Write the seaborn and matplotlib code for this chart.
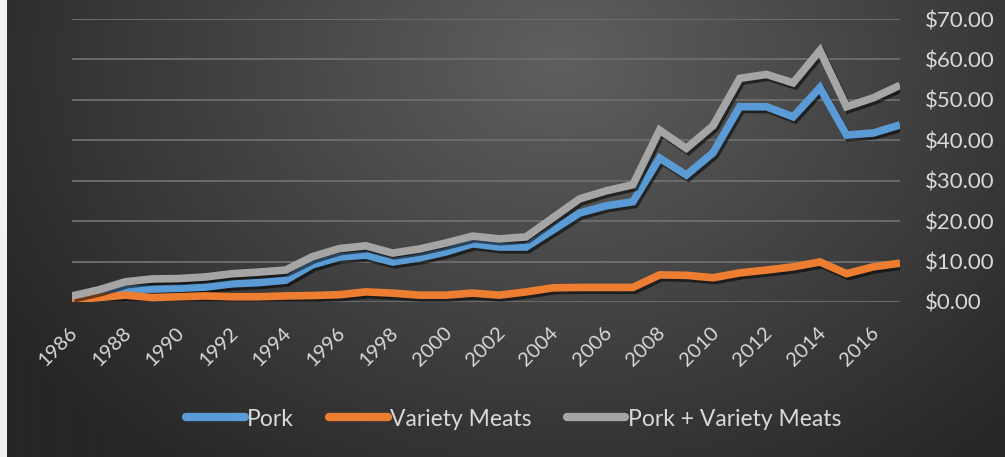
import numpy as np
import pandas as pd
import matplotlib
matplotlib.use("Agg")
import matplotlib.pyplot as plt
import matplotlib.patheffects as pe
from matplotlib.colors import to_rgb
from matplotlib.lines import Line2D
from matplotlib.ticker import FuncFormatter, MultipleLocator
import matplotlib.transforms as mtransforms
import seaborn as sns

# ---- data (US $ per head) ----
years = list(range(1986, 2018))
pork = [0.8, 2.0, 3.2, 3.2, 3.4, 3.7, 4.5, 4.8, 5.4, 9.2,
        11.1, 11.6, 9.9, 10.9, 12.4, 14.4, 13.6, 13.6, 17.8, 22.0,
        23.8, 24.8, 35.6, 31.4, 36.9, 48.3, 48.3, 45.8, 53.0, 41.3,
        41.8, 43.8]
variety_meats = [0.5, 1.1, 1.7, 1.1, 1.3, 1.5, 1.3, 1.3, 1.5, 1.6,
                 1.8, 2.5, 2.2, 1.7, 1.7, 2.2, 1.7, 2.5, 3.5, 3.6,
                 3.6, 3.6, 6.7, 6.6, 6.0, 7.2, 7.9, 8.7, 9.9, 7.0,
                 8.7, 9.6]
pork_plus_variety = [1.5, 3.0, 5.0, 5.7, 5.8, 6.2, 7.0, 7.4, 7.9, 11.2,
                     13.2, 13.9, 12.1, 13.1, 14.6, 16.3, 15.6, 16.1, 20.8, 25.5,
                     27.5, 29.0, 42.5, 38.0, 43.6, 55.3, 56.3, 54.2, 62.2, 48.3,
                     50.5, 53.6]
series_names = ["Pork", "Variety Meats", "Pork + Variety Meats"]
series_colors = ["#5B9BD5", "#ED7D31", "#A5A5A5"]
tick_years = list(range(1986, 2017, 2))

df = pd.DataFrame({
    "year": years * 3,
    "value": pork + variety_meats + pork_plus_variety,
    "series": [series_names[0]] * len(years)
              + [series_names[1]] * len(years)
              + [series_names[2]] * len(years),
})

sns.set_theme(style="white")
plt.rcParams["font.family"] = ["Lato", "DejaVu Sans"]
text_color = "#D9D9D9"

W, H = 1005, 457
fig = plt.figure(figsize=(W / 100, H / 100), dpi=100)
fig.patch.set_facecolor("#2a2a2a")

# radial dark-grey backdrop
bg = fig.add_axes([0, 0, 1, 1], zorder=-10)
yy, xx = np.mgrid[0:H, 0:W]
d = np.sqrt(((xx - 560) / 650.0) ** 2 + ((yy - 60) / 520.0) ** 2)
d = np.clip(d, 0, 1)
inner = np.array(to_rgb("#5f5f5f"))
outer = np.array(to_rgb("#262626"))
img = inner[None, None, :] * (1 - d[..., None]) + outer[None, None, :] * d[..., None]
img[:, :7, :] = to_rgb("#f2f2f2")
bg.imshow(img, aspect="auto", extent=[0, 1, 0, 1], origin="upper")
bg.set_axis_off()

left, right = 72 / W, 900 / W
bottom, top = 1 - 302 / H, 1 - 19 / H
ax = fig.add_axes([left, bottom, right - left, top - bottom])
ax.set_facecolor("none")

sns.lineplot(data=df, x="year", y="value", hue="series",
             hue_order=series_names, palette=series_colors,
             linewidth=5.5, ax=ax, legend=False)

for line in ax.get_lines():
    line.set_solid_joinstyle("miter")
    line.set_solid_capstyle("butt")
    line.set_path_effects([
        pe.SimpleLineShadow(offset=(1.5, -2), shadow_color="black", alpha=0.55),
        pe.Normal(),
    ])

ax.set_xlim(years[0], years[-1])
ax.set_ylim(0, 70)
ax.yaxis.set_major_locator(MultipleLocator(10))
ax.yaxis.set_major_formatter(FuncFormatter(lambda v, p: f"${v:,.2f}"))
ax.yaxis.tick_right()
ax.grid(axis="y", color="#6b6b6b", linewidth=1.4)
ax.grid(axis="x", visible=False)
for s in ax.spines.values():
    s.set_visible(False)
ax.set_xlabel("")
ax.set_ylabel("")

ax.tick_params(axis="y", length=0, pad=18, labelsize=16, labelcolor=text_color)
ax.set_xticks(tick_years)
ax.set_xticklabels([str(y) for y in tick_years])
ax.tick_params(axis="x", length=0, pad=20, labelsize=14.5, labelcolor=text_color)
shift = mtransforms.ScaledTranslation(3 / 100, 0, fig.dpi_scale_trans)
for lab in ax.get_xticklabels():
    lab.set_rotation(45)
    lab.set_rotation_mode("anchor")
    lab.set_ha("right")
    lab.set_va("center")
    lab.set_transform(lab.get_transform() + shift)

handles = [Line2D([0], [0], color=c, linewidth=6, solid_capstyle="round")
           for c in series_colors]
leg = fig.legend(handles, series_names, loc="center", ncol=3,
                 bbox_to_anchor=(0.511, 1 - 419 / H), frameon=False,
                 fontsize=16.5, handlelength=2.55, handletextpad=0.1,
                 columnspacing=1.55)
for t in leg.get_texts():
    t.set_color(text_color)

fig.savefig("out.png", dpi=100)
